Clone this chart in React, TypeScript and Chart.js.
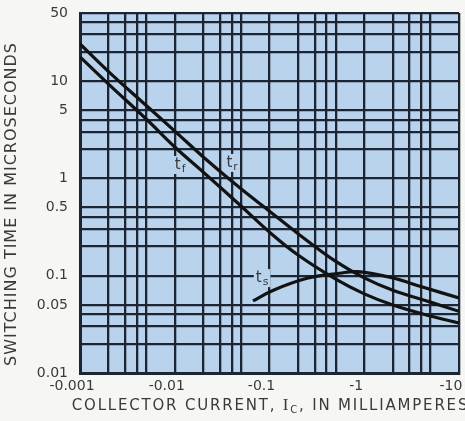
import { useEffect, useRef } from "react";
import { Chart, registerables } from "chart.js";

Chart.register(...registerables);

// ---- data (magnitudes of collector current in mA; plotted with negative labels) ----
const trCurrent = [0.001, 0.002, 0.005, 0.01, 0.02, 0.05, 0.1, 0.2, 0.5, 1, 2, 5, 10];
const trTime = [24.0, 12.5, 5.6, 3.06, 1.66, 0.78, 0.46, 0.27, 0.14, 0.095, 0.071, 0.0535, 0.043];

const tfCurrent = [0.001, 0.002, 0.005, 0.01, 0.02, 0.05, 0.1, 0.2, 0.5, 1, 2, 5, 10];
const tfTime = [17.7, 9.3, 4.07, 2.1, 1.16, 0.52, 0.28, 0.163, 0.092, 0.065, 0.05, 0.0385, 0.0326];

const tsCurrent = [0.067, 0.11, 0.25, 0.55, 0.85, 1.9, 4.2, 10];
const tsTime = [0.055, 0.071, 0.094, 0.106, 0.11, 0.096, 0.076, 0.059];

const xGridValues = [
  0.001, 0.002, 0.003, 0.004, 0.005,
  0.01, 0.02, 0.03, 0.04, 0.05,
  0.1, 0.2, 0.3, 0.4, 0.5,
  1, 2, 3, 4, 5,
  10,
];
const xLabelValues = [0.001, 0.01, 0.1, 1, 10];
const xTickLabels = ["-0.001", "-0.01", "-0.1", "-1", "-10"];

const yGridValues = [
  0.01, 0.02, 0.03, 0.04, 0.05,
  0.1, 0.2, 0.3, 0.4, 0.5,
  1, 2, 3, 4, 5,
  10, 20, 30, 40, 50,
];
const yLabelValues = [0.01, 0.05, 0.1, 0.5, 1, 5, 10, 50];
const yTickLabels = ["0.01", "0.05", "0.1", "0.5", "1", "5", "10", "50"];

const curveLabels = [
  { main: "t", sub: "f", x: 0.0114, y: 1.37 },
  { main: "t", sub: "r", x: 0.0403, y: 1.44 },
  { main: "t", sub: "s", x: 0.0835, y: 0.0944 },
];

const xTitleParts = ["COLLECTOR CURRENT, ", "I", "C", ", IN MILLIAMPERES"];
const yTitle = "SWITCHING TIME IN MICROSECONDS";

// ---- styles ----
const BLUE = "#b9d3ec";
const GRID = "#1c2534";
const INK = "#121212";
const TXT = "#3a3a3a";
const PAGE = "#f6f6f4";
const SANS = "'DejaVu Sans', sans-serif";

function near(a: number, b: number) {
  return Math.abs(a - b) / b < 1e-6;
}

export default function App() {
  const ref = useRef<HTMLCanvasElement | null>(null);

  useEffect(() => {
    document.body.style.margin = "0";
    const canvas = ref.current;
    if (!canvas) return;

    const decorPlugin = {
      id: "decor",
      beforeDraw(chart: any) {
        const { ctx, chartArea } = chart;
        ctx.save();
        ctx.fillStyle = PAGE;
        ctx.fillRect(0, 0, chart.width, chart.height);
        ctx.fillStyle = BLUE;
        ctx.fillRect(chartArea.left, chartArea.top, chartArea.right - chartArea.left, chartArea.bottom - chartArea.top);
        ctx.restore();
      },
      beforeDatasetsDraw(chart: any) {
        const { ctx } = chart;
        const xs = chart.scales.x;
        const ys = chart.scales.y;
        ctx.save();
        for (const l of curveLabels) {
          const px = xs.getPixelForValue(l.x);
          const py = ys.getPixelForValue(l.y);
          ctx.font = `15px ${SANS}`;
          const wMain = ctx.measureText(l.main).width;
          ctx.font = `11px ${SANS}`;
          const wSub = ctx.measureText(l.sub).width;
          const w = wMain + wSub + 1;
          const x0 = px - w / 2;
          ctx.fillStyle = BLUE;
          ctx.fillRect(x0 - 2, py - 9, w + 4, 18);
          ctx.fillStyle = TXT;
          ctx.textBaseline = "alphabetic";
          ctx.textAlign = "left";
          ctx.font = `15px ${SANS}`;
          ctx.fillText(l.main, x0, py + 4);
          ctx.font = `11px ${SANS}`;
          ctx.fillText(l.sub, x0 + wMain + 1, py + 7);
        }
        ctx.restore();
      },
      afterDraw(chart: any) {
        const { ctx, chartArea } = chart;
        const dpr = chart.currentDevicePixelRatio || 1;
        ctx.save();
        ctx.fillStyle = TXT;
        // y title
        ctx.font = `16px ${SANS}`;
        (ctx as any).letterSpacing = "1px";
        ctx.textAlign = "center";
        ctx.textBaseline = "middle";
        ctx.translate(12, 204);
        ctx.rotate(-Math.PI / 2);
        ctx.fillText(yTitle, 0, 0);
        ctx.setTransform(dpr, 0, 0, dpr, 0, 0);
        // x title with serif I and subscript C
        (ctx as any).letterSpacing = "1.8px";
        ctx.textAlign = "left";
        ctx.textBaseline = "alphabetic";
        const fonts = [`15px ${SANS}`, `17px 'Liberation Serif', serif`, `10px ${SANS}`, `15px ${SANS}`];
        const dy = [0, 0, 3, 0];
        let total = 0;
        const widths: number[] = [];
        xTitleParts.forEach((p, i) => {
          ctx.font = fonts[i];
          const w = ctx.measureText(p).width;
          widths.push(w);
          total += w;
        });
        let x = (chartArea.left + chartArea.right) / 2 - total / 2 + 1;
        const base = 410;
        xTitleParts.forEach((p, i) => {
          ctx.font = fonts[i];
          ctx.fillText(p, x, base + dy[i]);
          x += widths[i];
        });
        ctx.restore();
      },
    };

    const lineStyle = {
      borderColor: INK,
      borderWidth: 3.2,
      pointRadius: 0,
      tension: 0.4,
      fill: false,
    };

    const chart = new Chart(canvas, {
      type: "line",
      data: {
        datasets: [
          { label: "tr", data: trCurrent.map((c, i) => ({ x: c, y: trTime[i] })), ...lineStyle },
          { label: "tf", data: tfCurrent.map((c, i) => ({ x: c, y: tfTime[i] })), ...lineStyle },
          { label: "ts", data: tsCurrent.map((c, i) => ({ x: c, y: tsTime[i] })), ...lineStyle },
        ],
      },
      options: {
        responsive: false,
        animation: false,
        layout: { padding: { top: 13, right: 6, left: 0, bottom: 0 }, autoPadding: false },
        plugins: { legend: { display: false }, tooltip: { enabled: false }, title: { display: false } },
        scales: {
          x: {
            type: "logarithmic",
            min: 0.001,
            max: 10,
            afterBuildTicks: (scale: any) => {
              scale.ticks = xGridValues.map((v) => ({ value: v }));
            },
            afterFit: (scale: any) => {
              scale.height = 48;
              scale.paddingLeft = 0;
              scale.paddingRight = 0;
            },
            grid: { color: GRID, lineWidth: 2.3, drawTicks: false },
            border: { display: true, color: GRID, width: 3 },
            ticks: {
              autoSkip: false,
              maxRotation: 0,
              padding: 5,
              labelOffset: -8,
              color: TXT,
              font: { family: SANS, size: 14 },
              callback: (v: any) => {
                const idx = xLabelValues.findIndex((lv) => near(Number(v), lv));
                return idx >= 0 ? xTickLabels[idx] : "";
              },
            },
          },
          y: {
            type: "logarithmic",
            min: 0.01,
            max: 50,
            afterBuildTicks: (scale: any) => {
              scale.ticks = yGridValues.map((v) => ({ value: v }));
            },
            afterFit: (scale: any) => {
              scale.width = 80;
              scale.paddingTop = 0;
              scale.paddingBottom = 0;
            },
            grid: { color: GRID, lineWidth: 2.3, drawTicks: false },
            border: { display: true, color: GRID, width: 3 },
            ticks: {
              autoSkip: false,
              padding: 12,
              color: TXT,
              font: { family: SANS, size: 14 },
              callback: (v: any) => {
                const idx = yLabelValues.findIndex((lv) => near(Number(v), lv));
                return idx >= 0 ? yTickLabels[idx] : "";
              },
            },
          },
        },
      },
      plugins: [decorPlugin],
    } as any);

    return () => chart.destroy();
  }, []);

  return (
    <div style={{ width: 465, height: 421 }}>
      <canvas ref={ref} width={465} height={421} style={{ display: "block" }} />
    </div>
  );
}
